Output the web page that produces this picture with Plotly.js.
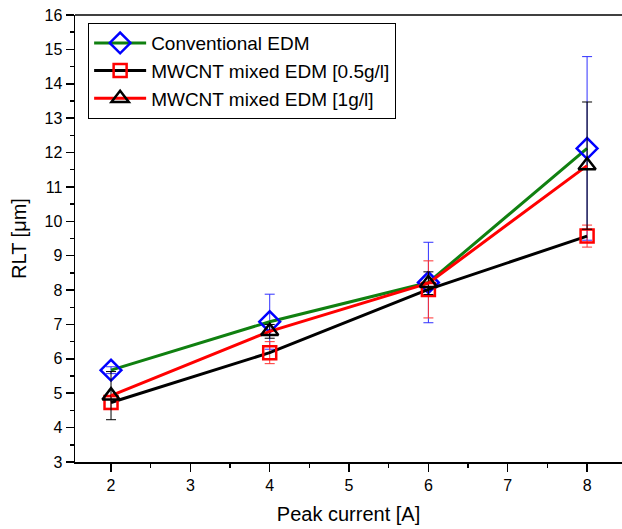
<!DOCTYPE html>
<html>
<head>
<meta charset="utf-8">
<script src="https://cdn.plot.ly/plotly-3.0.1.min.js"></script>
<style>html,body{margin:0;padding:0;background:#fff;}#chart{width:622px;height:529px;}</style>
</head>
<body>
<div id="chart"></div>
<script>
const peakCurrent = [2, 4, 6, 8];
const seriesNames = ["Conventional EDM", "MWCNT mixed EDM [0.5g/l]", "MWCNT mixed EDM [1g/l]"];
const conventional = [5.67, 7.08, 8.22, 12.12];
const conventionalErr = [0.1, 0.8, 1.17, 2.67];
const mixed05 = [4.73, 6.18, 8.02, 9.57];
const mixed05Err = [0.17, 0.32, 0.83, 0.32];
const mixed1 = [4.93, 6.8, 8.2, 11.62];
const mixed1Err = [0.7, 0.2, 0.33, 1.85];

function trace(name, y, err, lineColor, markerColor, symbol, size, errColor) {
  return {
    x: peakCurrent, y: y, name: name, type: 'scatter', mode: 'lines+markers',
    line: {color: lineColor, width: 3},
    marker: {symbol: symbol, size: size, color: markerColor, line: {color: markerColor, width: 2.5}},
    error_y: {type: 'data', array: err, visible: true, color: errColor, thickness: 1, width: 5}
  };
}

const data = [
  trace(seriesNames[0], conventional, conventionalErr, '#108010', '#0000ff', 'diamond-open', 16, '#3030ff'),
  trace(seriesNames[1], mixed05, mixed05Err, '#000000', '#ff0000', 'square-open', 13, '#ff3030'),
  trace(seriesNames[2], mixed1, mixed1Err, '#ff0000', '#000000', 'triangle-up-open', 15, '#000000')
];

const layout = {
  width: 622, height: 529,
  margin: {l: 75, r: 0, t: 15, b: 67},
  paper_bgcolor: '#fff', plot_bgcolor: '#fff',
  font: {family: 'Liberation Sans, Arial, sans-serif', color: '#000', size: 16},
  showlegend: true,
  legend: {
    x: 0.024, y: 0.982, xanchor: 'left', yanchor: 'top',
    bordercolor: '#000', borderwidth: 1, bgcolor: '#fff',
    font: {size: 19}, tracegroupgap: 0, itemwidth: 52
  },
  xaxis: {
    range: [1.546, 8.44], showgrid: false, zeroline: false,
    showline: true, linecolor: '#000', linewidth: 1.5,
    ticks: 'outside', ticklen: 8, tickwidth: 1.5, tickcolor: '#000',
    tickvals: [2, 3, 4, 5, 6, 7, 8],
    minor: {ticks: 'outside', ticklen: 4, tickwidth: 1.5, tickcolor: '#000', dtick: 0.5},
    tickfont: {size: 16},
    title: {text: 'Peak current [A]', font: {size: 20}, standoff: 14}
  },
  yaxis: {
    range: [3, 16], showgrid: false, zeroline: false,
    showline: true, linecolor: '#000', linewidth: 1.5,
    ticks: 'outside', ticklen: 8, tickwidth: 1.5, tickcolor: '#000',
    dtick: 1,
    minor: {ticks: 'outside', ticklen: 4, tickwidth: 1.5, tickcolor: '#000', dtick: 0.5},
    tickfont: {size: 16},
    title: {text: 'RLT [μm]', font: {size: 20}, standoff: 12}
  },
  shapes: [
    {type: 'line', xref: 'paper', yref: 'paper', x0: 0, x1: 1, y0: 1, y1: 1, line: {color: '#000', width: 1.5}}
  ]
};

Plotly.newPlot('chart', data, layout, {displayModeBar: false, staticPlot: true});
</script>
</body>
</html>
